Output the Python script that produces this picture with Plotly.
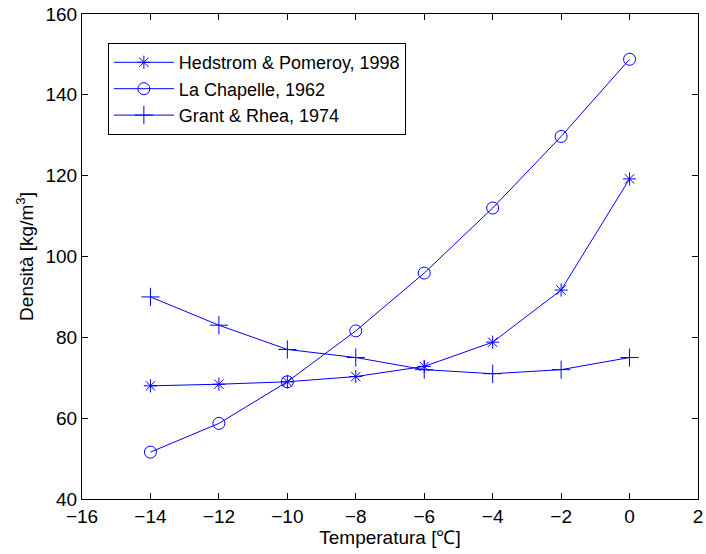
import plotly.graph_objects as go

temps = [-14, -12, -10, -8, -6, -4, -2, 0]
hedstrom = [68.0, 68.4, 69.0, 70.3, 72.8, 78.8, 91.7, 119.2]
lachapelle = [51.6, 58.7, 69.0, 81.6, 95.9, 112.0, 129.7, 148.8]
grant = [90, 83, 77, 75, 72, 71, 72, 75]

names = ["Hedstrom & Pomeroy, 1998", "La Chapelle, 1962", "Grant & Rhea, 1974"]
symbols = ["asterisk-open", "circle-open", "cross-thin-open"]
sizes = [11, 12, 13]
series = [hedstrom, lachapelle, grant]

blue = "#0000ff"
fig = go.Figure()
for name, ys, sym, sz in zip(names, series, symbols, sizes):
    fig.add_trace(go.Scatter(
        x=temps, y=ys, name=name, mode="lines+markers",
        line=dict(color=blue, width=1),
        marker=dict(symbol=sym, size=sz, color=blue, line=dict(color=blue, width=1)),
    ))

font = "Liberation Sans, Arial, sans-serif"
fs = 19
axis_common = dict(
    showline=True, linecolor="black", linewidth=1, mirror="ticks",
    ticks="inside", ticklen=6, tickcolor="black", showgrid=False, zeroline=False,
    automargin=False,
    tickfont=dict(family=font, size=fs, color="black"),
)
fig.update_layout(
    width=706, height=554,
    margin=dict(l=82, r=8, t=14, b=55),
    paper_bgcolor="white", plot_bgcolor="white",
    showlegend=True,
    legend=dict(
        x=0.042, y=0.94, xanchor="left", yanchor="top",
        bgcolor="white", bordercolor="black", borderwidth=1,
        font=dict(family=font, size=18, color="black"),
        itemwidth=60, tracegroupgap=0,
    ),
    xaxis=dict(range=[-16, 2], dtick=2, tickformat="d",
               title=dict(text="Temperatura [℃]", font=dict(family=font, size=fs, color="black"), standoff=2),
               **axis_common),
    yaxis=dict(range=[40, 160], dtick=20,
               title=dict(text="Densità [kg/m<sup>3</sup>]", font=dict(family=font, size=fs, color="black"), standoff=6),
               **axis_common),
)
fig.write_html("out.html", config={"displayModeBar": False},
               post_script="document.body.style.margin='0';")
